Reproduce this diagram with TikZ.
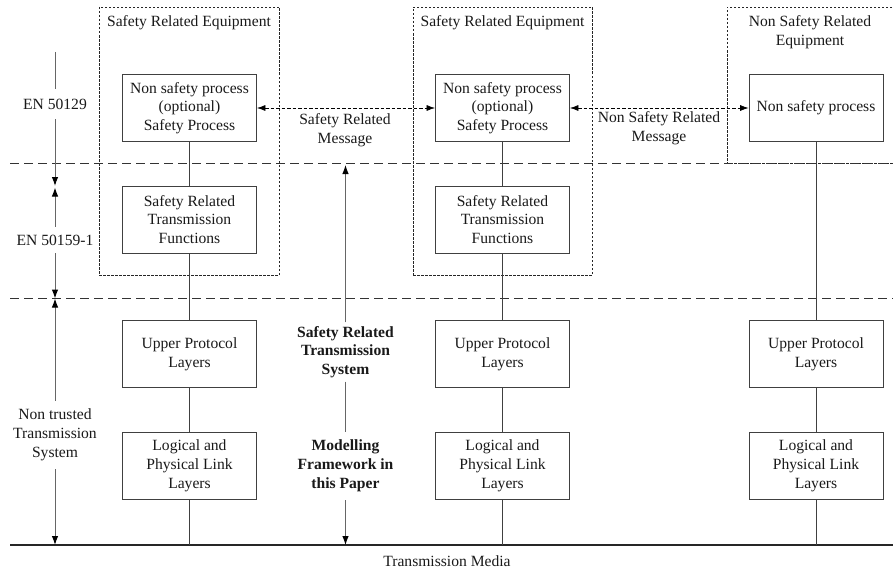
\documentclass[tikz,border=0pt]{standalone}
\usepackage{fontspec}
\setmainfont{Liberation Serif}
\usetikzlibrary{arrows.meta}
\begin{document}
\begin{tikzpicture}[x=1pt,y=-1pt,
  every node/.style={font=\fontsize{15.6}{18.8}\selectfont, align=center, inner sep=0pt, text=black!90},
  layer/.style={draw=black!75, line width=0.8pt, minimum width=134pt, minimum height=67pt},
  equip/.style={draw=black!85, line width=0.7pt, dash pattern=on 2.5pt off 1.5pt},
  zone/.style={draw=black!80, line width=0.8pt, dash pattern=on 9pt off 5pt},
  link/.style={draw=black!75, line width=0.8pt},
  msg/.style={draw=black, line width=0.7pt, dash pattern=on 3.5pt off 2pt,
              {Latex[length=8.5pt,width=6pt]}-{Latex[length=8.5pt,width=6pt]}},
  span/.style={draw=black!60, line width=1pt},
  tip/.style={-{Latex[length=9pt,width=6.5pt,color=black]}},
  gap/.style={fill=white, inner xsep=3pt, inner ysep=8pt},
]
\useasboundingbox (0,0) rectangle (893,578);

% equipment enclosures
\node[equip, minimum width=180pt, minimum height=268pt] (eq1) at (189,141) {};
\node[equip, minimum width=179pt, minimum height=268pt] (eq2) at (502.5,141) {};
\coordinate (eq3a) at (900,7);
\coordinate (eq3b) at (727,7);
\coordinate (eq3c) at (727,163);
\coordinate (eq3d) at (900,163);
\draw[equip] (eq3a) -- (eq3b) -- (eq3c) -- (eq3d);

\node (t1) at (189,23) {Safety Related Equipment};
\node (t2) at (502.5,23) {Safety Related Equipment};
\node (t3) at (810,32) {Non Safety Related\\Equipment};

% zone boundaries and transmission medium
\coordinate (z1l) at (10,163);
\coordinate (z1r) at (893,163);
\coordinate (z2l) at (10,298.5);
\coordinate (z2r) at (893,298.5);
\coordinate (ml) at (10,545);
\coordinate (mr) at (893,545);
\draw[zone] (z1l) -- (z1r);
\draw[zone] (z2l) -- (z2r);
\draw[line width=1.8pt, black!85] (ml) -- (mr);
\node (media) at (447,561) {Transmission Media};

% column 1
\node[layer] (a1) at (189.5,108) {Non safety process\\(optional)\\Safety Process};
\node[layer] (a2) at (189.5,219.5) {Safety Related\\Transmission\\Functions};
\node[layer] (a3) at (189.5,354) {Upper Protocol\\Layers};
\node[layer] (a4) at (189.5,466) {Logical and\\Physical Link\\Layers};
% column 2
\node[layer] (b1) at (502.5,108) {Non safety process\\(optional)\\Safety Process};
\node[layer] (b2) at (502.5,219.5) {Safety Related\\Transmission\\Functions};
\node[layer] (b3) at (502.5,354) {Upper Protocol\\Layers};
\node[layer] (b4) at (502.5,466) {Logical and\\Physical Link\\Layers};
% column 3
\node[layer] (c1) at (816,108) {Non safety process};
\node[layer] (c3) at (816,354) {Upper Protocol\\Layers};
\node[layer] (c4) at (816,466) {Logical and\\Physical Link\\Layers};

% vertical stack links
\draw[link] (a1) -- (a2);
\draw[link] (a2) -- (a3);
\draw[link] (a3) -- (a4);
\draw[link] (a4.south) -- (a4.south |- ml);
\draw[link] (b1) -- (b2);
\draw[link] (b2) -- (b3);
\draw[link] (b3) -- (b4);
\draw[link] (b4.south) -- (b4.south |- ml);
\draw[link] (c1) -- (c3);
\draw[link] (c3) -- (c4);
\draw[link] (c4.south) -- (c4.south |- ml);

% messages between equipment
\draw[msg] (a1) -- (b1);
\draw[msg] (b1) -- (c1);
\node (m1) at (345,130) {Safety Related\\Message};
\node (m2) at (659,128.5) {Non Safety Related\\Message};

% standards scale on the left
\coordinate (s0) at (55,52);
\coordinate (s1a) at (55,186);
\coordinate (s1b) at (55,187.5);
\coordinate (s2) at (55,298.5);
\coordinate (s3) at (55,545);
\node[gap, inner ysep=10pt] (l1) at (55,104) {EN 50129};
\node[gap] (l2) at (55,240) {EN 50159-1};
\node[gap] (l3) at (55,435) {Non trusted\\Transmission\\System};
\draw[span] (s0) -- (l1);
\draw[span, tip] (l1) -- (s1a);
\draw[span, tip] (l2) -- (s1b);
\draw[span, tip] (l2) -- (s2);
\draw[span, tip] (l3) -- (s2);
\draw[span, tip] (l3) -- (s3);

% scope of the modelling framework
\coordinate (f0) at (345.5,165);
\coordinate (f1) at (345.5,545);
\node[gap, inner ysep=3.5pt, font=\fontsize{15.6}{18.8}\selectfont\bfseries] (f2) at (345.5,352) {Safety Related\\Transmission\\System};
\node[gap, font=\fontsize{15.6}{18.8}\selectfont\bfseries] (f3) at (345.5,466) {Modelling\\Framework in\\this Paper};
\draw[span, tip] (f2) -- (f0);
\draw[span] (f2) -- (f3);
\draw[span, tip] (f3) -- (f1);
\end{tikzpicture}
\end{document}
